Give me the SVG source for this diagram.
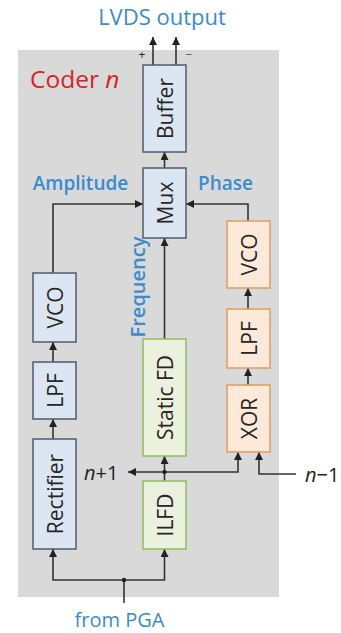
<svg xmlns="http://www.w3.org/2000/svg" width="341" height="633" viewBox="0 0 341 633">
<style>
.box{stroke-width:1.5}
.b{fill:#dce6f2;stroke:#4f5b6b}
.o{fill:#fde9d9;stroke:#e39b5c}
.g{fill:#ebf1de;stroke:#8fbf5a}
.t{font-family:"Open Sans","Liberation Sans",sans-serif;font-size:21px;fill:#262626;text-anchor:middle;dominant-baseline:central}
.lbl{font-family:"Open Sans","Liberation Sans",sans-serif;font-size:19px;fill:#3a8ccb;font-weight:600}
.w{stroke:#333;stroke-width:1.6;fill:none}
.blk{font-family:"Open Sans","Liberation Sans",sans-serif;font-size:20px;fill:#222}
</style>
<defs>
<marker id="ah" viewBox="0 0 10 10" refX="10" refY="5" markerWidth="5" markerHeight="5" orient="auto" markerUnits="strokeWidth">
<path d="M0,0 L10,5 L0,10 z" fill="#222"/>
</marker>
</defs>
<rect x="18" y="50" width="261" height="547" fill="#d9d9d9"/>
<text x="30" y="88" font-family="Open Sans, Liberation Sans, sans-serif" font-size="24.5" fill="#d3252a">Coder <tspan font-style="italic">n</tspan></text>
<text x="162" y="25" text-anchor="middle" class="lbl" style="font-size:22px;font-weight:400">LVDS output</text>
<text x="80.5" y="190" text-anchor="middle" class="lbl">Amplitude</text>
<text x="225.5" y="190" text-anchor="middle" class="lbl">Phase</text>
<text transform="translate(137,287) rotate(-90)" text-anchor="middle" dominant-baseline="central" class="lbl" style="font-size:20px">Frequency</text>
<text x="119.5" y="627" text-anchor="middle" class="lbl" style="font-size:20px;font-weight:400">from PGA</text>
<text x="84" y="480" class="blk"><tspan font-style="italic">n</tspan>+1</text>
<text x="305" y="482" class="blk"><tspan font-style="italic">n</tspan>−1</text>
<text x="142" y="59" class="blk" style="font-size:12px" text-anchor="middle">+</text>
<text x="189" y="59" class="blk" style="font-size:12px;fill:#555" text-anchor="middle">−</text>
<g id="connectors">
<path class="w" d="M153,65 V37" marker-end="url(#ah)"/>
<path class="w" d="M176,65 V37" marker-end="url(#ah)"/>
<path class="w" d="M164.5,168 V152" marker-end="url(#ah)"/>
<path class="w" d="M53,273 V204 H143" marker-end="url(#ah)"/>
<path class="w" d="M248,221 V204 H186" marker-end="url(#ah)"/>
<path class="w" d="M164.5,339 V238" marker-end="url(#ah)"/>
<path class="w" d="M53,362 V342" marker-end="url(#ah)"/>
<path class="w" d="M53,439 V419" marker-end="url(#ah)"/>
<path class="w" d="M248,309 V288" marker-end="url(#ah)"/>
<path class="w" d="M248,385 V368" marker-end="url(#ah)"/>
<path class="w" d="M164.5,481 V456" marker-end="url(#ah)"/>
<path class="w" d="M164.5,472 H238 V452" marker-end="url(#ah)"/>
<path class="w" d="M164.5,472 H128" marker-end="url(#ah)"/>
<path class="w" d="M296,474 H259 V452" marker-end="url(#ah)"/>
<path class="w" d="M124,603 V580 H53 V549" marker-end="url(#ah)"/>
<path class="w" d="M124,580 H164.5 V549" marker-end="url(#ah)"/>
<circle cx="164.5" cy="472" r="2.2" fill="#222"/>
<circle cx="124" cy="580" r="2.2" fill="#222"/>
</g>
<g id="buffer"><rect class="box b" x="143" y="65" width="43" height="87"/><text class="t" transform="translate(164.5,108.5) rotate(-90)">Buffer</text></g>
<g id="mux"><rect class="box b" x="143" y="168" width="43" height="70"/><text class="t" transform="translate(164.5,203) rotate(-90)">Mux</text></g>
<g id="vco-amp"><rect class="box b" x="33" y="273" width="43" height="69"/><text class="t" transform="translate(54.5,307.5) rotate(-90)">VCO</text></g>
<g id="lpf-amp"><rect class="box b" x="33" y="362" width="43" height="57"/><text class="t" transform="translate(54.5,390.5) rotate(-90)">LPF</text></g>
<g id="rectifier"><rect class="box b" x="33" y="439" width="43" height="110"/><text class="t" transform="translate(54.5,494) rotate(-90)">Rectifier</text></g>
<g id="static-fd"><rect class="box g" x="143" y="339" width="43" height="117"/><text class="t" transform="translate(164.5,397.5) rotate(-90)">Static FD</text></g>
<g id="ilfd"><rect class="box g" x="143" y="481" width="43" height="68"/><text class="t" transform="translate(164.5,515) rotate(-90)">ILFD</text></g>
<g id="vco-phase"><rect class="box o" x="227" y="221" width="43" height="67"/><text class="t" transform="translate(248.5,254.5) rotate(-90)">VCO</text></g>
<g id="lpf-phase"><rect class="box o" x="227" y="309" width="43" height="59"/><text class="t" transform="translate(248.5,338.5) rotate(-90)">LPF</text></g>
<g id="xor"><rect class="box o" x="227" y="385" width="43" height="67"/><text class="t" transform="translate(248.5,418.5) rotate(-90)">XOR</text></g>
</svg>
